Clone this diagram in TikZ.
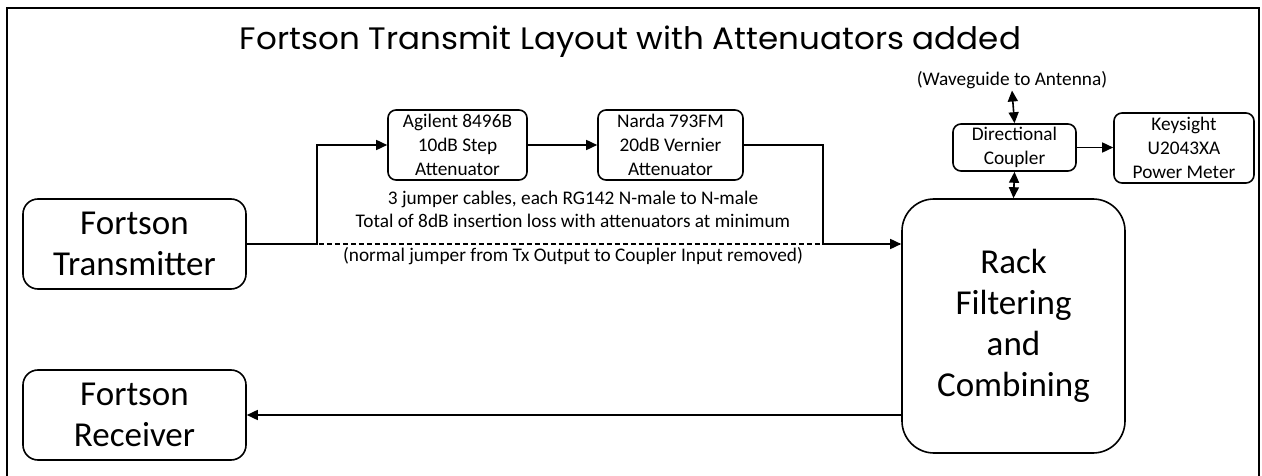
\documentclass[tikz,border=0pt]{standalone}
\usepackage{fontspec}
\setmainfont{Carlito}
\newfontfamily\titlefont{Poppins}
\usetikzlibrary{arrows.meta, positioning}

\begin{document}
\begin{tikzpicture}[x=1pt, y=-1pt,
          line width=1.6pt,
          bigbox/.style={draw, rounded corners=15pt, align=center, minimum width=223pt,
            minimum height=90pt, font=\fontsize{35}{41}\selectfont},
          unit/.style={draw, rounded corners=8pt, align=center, minimum height=70pt,
            inner sep=1pt, font=\fontsize{19.3}{24}\selectfont},
          note/.style={align=center, inner sep=1pt, font=\fontsize{19.3}{23}\selectfont},
          conn/.style={-{Triangle[length=11pt, width=10pt]}},
          both/.style={{Triangle[length=11pt, width=10pt]}-{Triangle[length=11pt, width=10pt]}}]
          \useasboundingbox (0,0) rectangle (1262,476);

          % Frame and title
          \draw (7,476) -- (7,8) -- (1259,8) -- (1259,476);
          \node[anchor=base, inner sep=0pt, font=\titlefont\fontsize{31}{36}\selectfont] (title) at (630.5,50)
            {\scalebox{1.05}[1]{Fortson Transmit Layout with Attenuators added}};

          % Boxes
          \node[bigbox] (tx) at (134.5,244) {Fortson\\Transmitter};
          \node[bigbox] (rx) at (134.5,415) {Fortson\\Receiver};
          \node[bigbox, rounded corners=32pt, minimum height=254pt] (rack) at (1013.5,326)
            {Rack\\Filtering\\and\\Combining};
          \node[unit, minimum width=139pt] (ag) at (457.5,145) {Agilent 8496B\\10dB Step\\Attenuator};
          \node[unit, minimum width=145pt] (nd) at (670.5,145) {Narda 793FM\\20dB Vernier\\Attenuator};
          \node[unit, minimum width=123pt, minimum height=47pt] (dc) at (1014.5,147.5) {Directional\\Coupler};
          \node[unit, minimum width=140pt] (ks) at (1184,148) {Keysight\\U2043XA\\Power Meter};

          % Labels
          \node[note] (wg) at (1012,80) {(Waveguide to Antenna)};
          \node[note] (cables) at (573,209.5)
            {3 jumper cables, each RG142 N-male to N-male\\Total of 8dB insertion loss with attenuators at minimum};
          \node[note] (removed) at (573,256) {(normal jumper from Tx Output to Coupler Input removed)};

          % Connections
          \coordinate (split) at (317,244);
          \coordinate (join) at (823,244);
          \draw[dashed, dash pattern=on 5pt off 3pt] (tx.east) -- (rack.west |- tx.east);
          \draw[conn] (tx.east) -- (split) |- (ag.west);
          \draw[conn] (ag.east) -- (nd.west);
          \draw[conn] (nd.east) -| (join) -- (rack.west |- join);
          \draw[conn] (rack.west |- rx.east) -- (rx.east);
          \draw[both] (wg.south) -- (dc.north);
          \draw[both] (dc.south) -- (rack.north);
          \draw[conn] (dc.east) -- (dc.east -| ks.west);
        \end{tikzpicture}
\end{document}
